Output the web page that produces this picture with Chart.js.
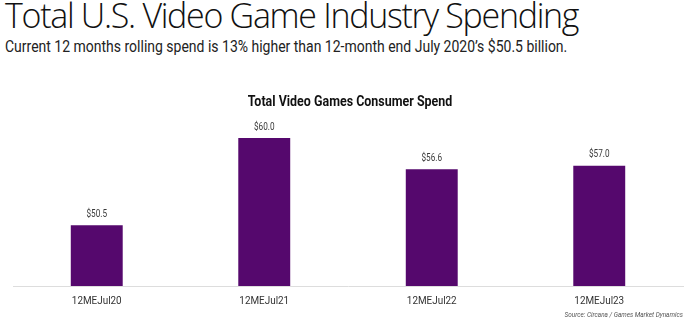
<!DOCTYPE html>
<html>
<head>
<meta charset="utf-8">
<script src="https://cdn.jsdelivr.net/npm/chart.js@4"></script>
<style>
  html, body { margin: 0; padding: 0; background: #fff; }
  body { width: 691px; height: 322px; position: relative; overflow: hidden; }
  .txt { position: absolute; white-space: nowrap; line-height: 1; }
  #title { left: 5px; top: -2px; font-family: "Open Sans", sans-serif; font-weight: 300; font-size: 34px; color: #111; letter-spacing: -1.3px; }
  #sub { left: 5px; top: 38px; font-family: Roboto, sans-serif; font-size: 17px; color: #222; transform: scaleX(0.823); transform-origin: left top; }
  #ctitle { left: 350px; top: 94px; font-family: Roboto, sans-serif; font-weight: bold; font-size: 14px; color: #111; transform: translateX(-50%) scaleX(0.89); }
  #source { right: 8px; top: 311px; font-family: Roboto, sans-serif; font-style: italic; font-size: 8px; color: #555; transform: scaleX(0.8); transform-origin: right top; }
  #wrap { position: absolute; left: 0; top: 80px; width: 691px; height: 242px; }
</style>
</head>
<body>
<div id="title" class="txt">Total U.S. Video Game Industry Spending</div>
<div id="sub" class="txt">Current 12 months rolling spend is 13% higher than 12-month end July 2020’s $50.5 billion.</div>
<div id="wrap"><canvas id="c"></canvas></div>
<div id="ctitle" class="txt">Total Video Games Consumer Spend</div>
<div id="source" class="txt">Source: Circana  / Games Market Dynamics</div>
<script>
// datos (miles de millones USD)
const periods = ["12MEJul20", "12MEJul21", "12MEJul22", "12MEJul23"];
const spend = [50.5, 60.0, 56.6, 57.0];

const PURPLE = "#55086d";

// texto "condensado": Roboto comprimido horizontalmente
function narrowText(ctx, text, x, y, font, color, sx) {
  ctx.save();
  ctx.font = font;
  ctx.fillStyle = color;
  ctx.textAlign = "center";
  ctx.textBaseline = "middle";
  ctx.scale(sx, 1);
  ctx.fillText(text, x / sx, y);
  ctx.restore();
}

// etiquetas de valor y de categoria
const narrowLabels = {
  id: "narrowLabels",
  afterDatasetsDraw(chart) {
    const ctx = chart.ctx;
    const xs = chart.scales.x;
    chart.getDatasetMeta(0).data.forEach((bar, i) => {
      narrowText(ctx, "$" + spend[i].toFixed(1), bar.x, bar.y - 11, "10.5px Roboto", "#3a3a3a", 0.78);
    });
    periods.forEach((p, i) => {
      narrowText(ctx, p, xs.getPixelForValue(i), chart.chartArea.bottom + 15, "11px Roboto", "#333", 0.9);
    });
  },
};

new Chart(document.getElementById("c").getContext("2d"), {
  type: "bar",
  data: {
    labels: periods,
    datasets: [{
      data: spend,
      backgroundColor: PURPLE,
      barPercentage: 0.31,
      categoryPercentage: 1,
    }],
  },
  options: {
    responsive: true,
    maintainAspectRatio: false,
    animation: false,
    layout: { padding: { left: 13, right: 8, top: 30, bottom: 36 } },
    plugins: {
      legend: { display: false },
      tooltip: { enabled: false },
    },
    scales: {
      x: {
        grid: { display: false, drawTicks: false },
        border: { color: "#ddd", width: 1 },
        ticks: { display: false },
      },
      y: { display: false, min: 43.9, max: 63.06 },
    },
  },
  plugins: [narrowLabels],
});
</script>
</body>
</html>
